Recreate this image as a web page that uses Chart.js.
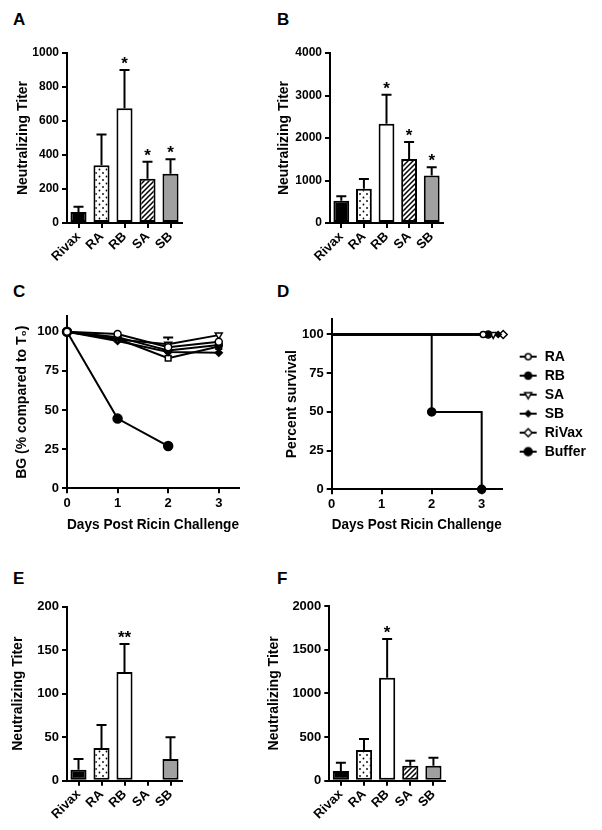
<!DOCTYPE html>
<html>
<head>
<meta charset="utf-8">
<title>Neutralizing titers and ricin challenge</title>
<script src="https://cdn.jsdelivr.net/npm/chart.js@4.4.0/dist/chart.umd.min.js"></script>
<style>
    body { margin: 0; background: #fff; width: 602px; height: 830px; position: relative; overflow: hidden; }
    canvas { position: absolute; }
    .panel { position: absolute; font: bold 17px "Liberation Sans", Arial, sans-serif; color: #000; line-height: 1; }
</style>
</head>
<body>
<div class="panel" style="left:13px;top:11px">A</div>
<div class="panel" style="left:277px;top:11px">B</div>
<div class="panel" style="left:13px;top:283px">C</div>
<div class="panel" style="left:277px;top:283px">D</div>
<div class="panel" style="left:13px;top:570px">E</div>
<div class="panel" style="left:277px;top:570px">F</div>

<canvas id="chartA" width="264" height="270" style="left:0;top:0"></canvas>
<canvas id="chartB" width="338" height="270" style="left:264px;top:0"></canvas>
<canvas id="chartC" width="264" height="270" style="left:0;top:270px"></canvas>
<canvas id="chartD" width="402" height="270" style="left:200px;top:270px"></canvas>
<canvas id="chartE" width="264" height="290" style="left:0;top:540px"></canvas>
<canvas id="chartF" width="338" height="290" style="left:264px;top:540px"></canvas>

<script>
// groups on the bar panels
var barLabels = ["Rivax", "RA", "RB", "SA", "SB"];

// A / B / E / F : mean titer and top of the error bar
var titerA = [65, 340, 675, 260, 290];
var titerAErr = [95, 520, 900, 360, 375];
var starsA = ["", "", "*", "*", "*"];

var titerB = [525, 808, 2335, 1505, 1115];
var titerBErr = [627, 1035, 3020, 1905, 1310];
var starsB = ["", "", "*", "*", "*"];

var titerE = [12.5, 37.5, 125, 0, 25];
var titerEErr = [25, 64, 157, 0, 50];
var starsE = ["", "", "**", "", ""];

var titerF = [111, 351, 1179, 172, 172];
var titerFErr = [206, 477, 1622, 229, 263];
var starsF = ["", "", "*", "", ""];

// C : blood glucose, % of T0
var days = [0, 1, 2, 3];
var bgRA = [100, 98.5, 90, 93.5];
var bgRB = [100, 96.5, 88, 91.5];
var bgSA = [100, 95, 92, 97.8];
var bgSAErr = [null, null, 96.3, null];
var bgSB = [100, 94, 87, 86.5];
var bgRiVax = [100, 95.5, 83, 90.5];
var bgBuffer = [100, 44.5, 27];

// D : survival
var survGroups = ["RA", "RB", "SA", "SB", "RiVax"];
var survEnd = [3.03, 3.13, 3.23, 3.33, 3.43];
var survPct = [100, 100, 100, 100, 100];
var bufferDays = [0, 2, 3];
var bufferSurv = [100, 50, 0];

Chart.defaults.font.family = '"Liberation Sans", Arial, sans-serif';
Chart.defaults.font.weight = 'bold';
Chart.defaults.font.size = 12;
Chart.defaults.color = '#000';
Chart.defaults.animation = false;

function dotPattern() {
    var c = document.createElement('canvas');
    c.width = 7; c.height = 7;
    var g = c.getContext('2d');
    g.fillStyle = '#fff';
    g.fillRect(0, 0, 7, 7);
    g.fillStyle = '#000';
    g.beginPath(); g.arc(1.5, 1.5, 0.9, 0, Math.PI * 2); g.fill();
    g.beginPath(); g.arc(5, 5, 0.9, 0, Math.PI * 2); g.fill();
    return g.createPattern(c, 'repeat');
}

function hatchPattern() {
    var c = document.createElement('canvas');
    c.width = 5; c.height = 5;
    var g = c.getContext('2d');
    g.fillStyle = '#fff';
    g.fillRect(0, 0, 5, 5);
    g.strokeStyle = '#000';
    g.lineWidth = 1.5;
    g.beginPath();
    g.moveTo(-1, 6); g.lineTo(6, -1);
    g.moveTo(-1, 1); g.lineTo(1, -1);
    g.moveTo(4, 6); g.lineTo(6, 4);
    g.stroke();
    return g.createPattern(c, 'repeat');
}

var barFills = ['#000', dotPattern(), '#fff', hatchPattern(), '#a0a0a0'];

// error bars (upper only) and significance stars
var errorBars = {
    id: 'errorBars',
    afterDatasetsDraw: function (chart) {
        var ctx = chart.ctx;
        var yScale = chart.scales.y;
        chart.data.datasets.forEach(function (ds, di) {
            if (!ds.errTop) return;
            var meta = chart.getDatasetMeta(di);
            meta.data.forEach(function (el, i) {
                var top = ds.errTop[i];
                var v = typeof ds.data[i] === 'object' ? ds.data[i].y : ds.data[i];
                var capY = yScale.getPixelForValue(top);
                ctx.save();
                if (top != null && top > v) {
                    var startY = chart.config.type === 'line' ? el.y - (el.options.radius || 0) : el.y;
                    ctx.strokeStyle = '#000';
                    ctx.lineWidth = 2;
                    ctx.beginPath();
                    ctx.moveTo(el.x, startY);
                    ctx.lineTo(el.x, capY);
                    ctx.moveTo(el.x - 5, capY);
                    ctx.lineTo(el.x + 5, capY);
                    ctx.stroke();
                }
                if (ds.stars && ds.stars[i]) {
                    ctx.fillStyle = '#000';
                    ctx.font = 'bold 17px "Liberation Sans", Arial, sans-serif';
                    ctx.textAlign = 'center';
                    ctx.textBaseline = 'alphabetic';
                    ctx.fillText(ds.stars[i], el.x, capY - 1);
                }
                ctx.restore();
            });
        });
    }
};

function axisGrid() {
    return { display: true, drawOnChartArea: false, color: '#000', lineWidth: 2, tickLength: 5 };
}
var axisBorder = { display: true, color: '#000', width: 2 };
function plainNumber(v) { return String(v); }

function makeBarChart(id, values, errTop, stars, yMax, yStep, box) {
    var config = {
        type: 'bar',
        data: {
            labels: barLabels,
            datasets: [{
                data: values,
                errTop: errTop,
                stars: stars,
                backgroundColor: barFills,
                borderColor: '#000',
                borderWidth: 2,
                borderSkipped: false,
                barPercentage: 0.7,
                categoryPercentage: 1,
            }],
        },
        options: {
            responsive: false,
            layout: { padding: { left: 0, top: box.top, right: box.right, bottom: 0 } },
            plugins: { legend: { display: false }, tooltip: { enabled: false } },
            scales: {
                x: {
                    grid: Object.assign(axisGrid(), { offset: false }),
                    border: axisBorder,
                    ticks: { font: { size: 13 }, autoSkip: false, minRotation: 45, maxRotation: 45, padding: 1 },
                    afterFit: function (s) { s.height = box.h; },
                },
                y: {
                    min: 0,
                    max: yMax,
                    grid: axisGrid(),
                    border: axisBorder,
                    ticks: { stepSize: yStep, font: { size: box.tickSize }, padding: 3, callback: plainNumber },
                    title: { display: true, text: 'Neutralizing Titer', font: { size: 14 }, padding: { top: box.titlePad, bottom: 0 } },
                    afterFit: function (s) { s.width = box.w; },
                },
            },
        },
        plugins: [errorBars],
    };
    return new Chart(document.getElementById(id), config);
}

makeBarChart('chartA', titerA, titerAErr, starsA, 1000, 200, { w: 67, top: 53, right: 82, h: 47, titlePad: 15, tickSize: 12 });
makeBarChart('chartB', titerB, titerBErr, starsB, 4000, 1000, { w: 66, top: 53, right: 159, h: 47, titlePad: 11.6, tickSize: 12 });
makeBarChart('chartE', titerE, titerEErr, starsE, 200, 50, { w: 67, top: 66.7, right: 82, h: 49.3, titlePad: 10, tickSize: 13 });
makeBarChart('chartF', titerF, titerFErr, starsF, 2000, 500, { w: 65.3, top: 66, right: 157, h: 49.3, titlePad: 1.6, tickSize: 13 });

function toPoints(xs, ys) {
    return ys.map(function (y, i) { return { x: xs[i], y: y }; });
}

function lineSet(label, pts, style, fill, radius, rotation) {
    return {
        label: label,
        data: pts,
        borderColor: '#000',
        borderWidth: 2,
        pointStyle: style,
        pointRotation: rotation || 0,
        pointRadius: radius,
        legendRadius: Array.isArray(radius) ? radius[radius.length - 1] : radius,
        pointBackgroundColor: fill,
        pointBorderColor: '#000',
        pointBorderWidth: 1.5,
        clip: false,
        tension: 0,
    };
}

function daysAxis(h) {
    return {
        type: 'linear',
        min: 0,
        max: 3.4,
        grid: axisGrid(),
        border: axisBorder,
        ticks: { stepSize: 1, includeBounds: false, font: { size: 13 }, padding: 2 },
        title: { display: true, text: 'Days Post Ricin Challenge', font: { size: 14 }, padding: { top: 0, bottom: 6.6 } },
        afterFit: function (s) { s.height = h; },
    };
}

function percentAxis(title, w, pad) {
    return {
        min: 0,
        max: 110,
        grid: axisGrid(),
        border: axisBorder,
        ticks: { stepSize: 25, includeBounds: false, font: { size: 13 }, padding: 3 },
        title: { display: true, text: title, font: { size: 14 }, padding: { top: pad, bottom: 0 } },
        afterFit: function (s) { s.width = w; },
    };
}

// C
var saSet = lineSet('SA', toPoints(days, bgSA), 'triangle', '#fff', 4, 180);
saSet.errTop = bgSAErr;
new Chart(document.getElementById('chartC'), {
    type: 'line',
    data: {
        datasets: [
            lineSet('RA', toPoints(days, bgRA), 'circle', '#fff', 3.5),
            lineSet('RB', toPoints(days, bgRB), 'circle', '#000', 3.5),
            saSet,
            lineSet('SB', toPoints(days, bgSB), 'rectRot', '#000', 3.5),
            lineSet('RiVax', toPoints(days, bgRiVax), 'rect', '#fff', 4),
            lineSet('Buffer', toPoints(days, bgBuffer), 'circle', '#000', 4.5),
        ],
    },
    options: {
        responsive: false,
        layout: { padding: { left: 0, top: 46, right: 25, bottom: 0 } },
        plugins: { legend: { display: false }, tooltip: { enabled: false } },
        scales: {
            x: daysAxis(51.7),
            y: percentAxis('BG (% compared to T\u2080)', 67, 14),
        },
    },
    plugins: [errorBars],
});

// D
var markerStyle = ['circle', 'circle', 'triangle', 'rectRot', 'rectRot'];
var markerFill = ['#fff', '#000', '#fff', '#000', '#fff'];
var markerSize = [3, 3.5, 4, 3, 4];
var markerRot = [0, 0, 180, 0, 0];
var survSets = survGroups.map(function (name, i) {
    return lineSet(name, [{ x: 0, y: survPct[i] }, { x: survEnd[i], y: survPct[i] }],
        markerStyle[i], markerFill[i], [0, markerSize[i]], markerRot[i]);
});
var bufferSet = lineSet('Buffer', toPoints(bufferDays, bufferSurv), 'circle', '#000', [0, 4, 4]);
bufferSet.stepped = 'before';
survSets.push(bufferSet);

// legend swatch: short line with the marker, left margin keeps the gap to the plot
function legendIcon(ds) {
    var c = document.createElement('canvas');
    c.width = 31; c.height = 12;
    var g = c.getContext('2d');
    g.strokeStyle = '#000';
    g.lineWidth = 2;
    g.beginPath(); g.moveTo(13, 6); g.lineTo(30, 6); g.stroke();
    g.fillStyle = ds.pointBackgroundColor;
    g.lineWidth = 1.5;
    Chart.helpers.drawPoint(g, { pointStyle: ds.pointStyle, radius: ds.legendRadius, rotation: ds.pointRotation, borderWidth: 1.5 }, 21.5, 6);
    return c;
}

new Chart(document.getElementById('chartD'), {
    type: 'line',
    data: { datasets: survSets },
    options: {
        responsive: false,
        layout: { padding: { left: 0, top: 49, right: 6.1, bottom: 0 } },
        plugins: {
            tooltip: { enabled: false },
            legend: {
                display: true,
                position: 'right',
                align: 'center',
                fullSize: false,
                labels: {
                    usePointStyle: true,
                    pointStyleWidth: 31,
                    padding: 5,
                    font: { size: 14 },
                    generateLabels: function (chart) {
                        return chart.data.datasets.map(function (ds, i) {
                            return { text: ds.label, pointStyle: legendIcon(ds), fillStyle: '#000', strokeStyle: '#000', lineWidth: 0, hidden: false, datasetIndex: i };
                        });
                    },
                },
            },
        },
        scales: {
            x: daysAxis(50.7),
            y: percentAxis('Percent survival', 131.7, 83.3),
        },
    },
});
</script>
</body>
</html>
